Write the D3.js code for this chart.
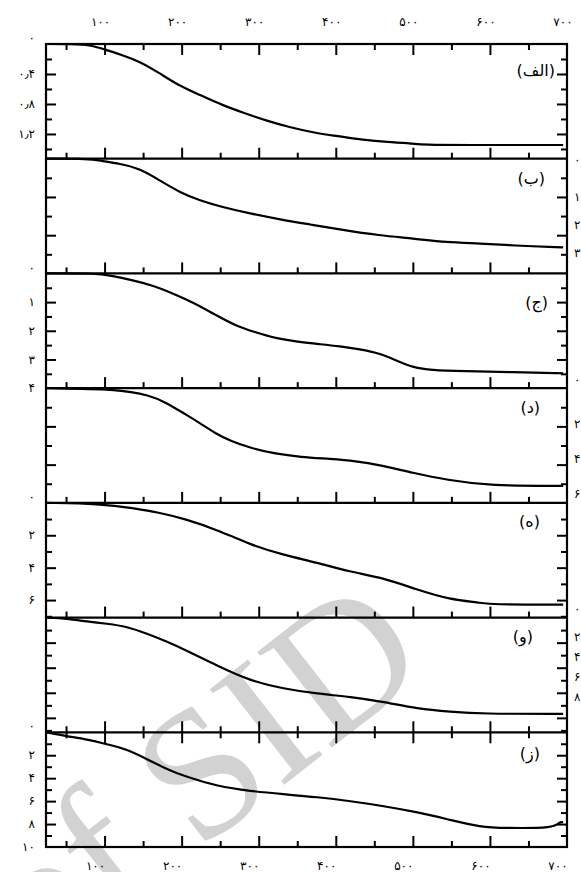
<!DOCTYPE html>
<html>
<head>
<meta charset="utf-8">
<script src="https://cdn.jsdelivr.net/npm/d3@7"></script>
<style>
  html, body { margin: 0; padding: 0; background: #fff; }
  svg { display: block; }
  text { font-family: "DejaVu Sans", sans-serif; }
</style>
</head>
<body>
<svg id="chart" width="581" height="872"></svg>
<script>
// ---- Temperature axis (°C) ----
const tempDomain = [24, 700];
const tempMajorTicks = [100, 200, 300, 400, 500, 600, 700];
const tempMinorTicks = [50, 150, 250, 350, 450, 550, 650];
const tempTickLabels = ["۱۰۰", "۲۰۰", "۳۰۰", "۴۰۰", "۵۰۰", "۶۰۰", "۷۰۰"];

// ---- Panels ----
const panelNames = ["(الف)", "(ب)", "(ج)", "(د)", "(ه)", "(و)", "(ز)"];
const lossMax = [1.53, 6, 4, 6, 7.08, 9.15, 10];
const lossStep = [0.2, 1, 0.5, 1, 1, 1, 1];

// Left-axis labels of each panel (value, text)
const lossLabelValues = [[0, 0.4, 0.8, 1.2], [], [0, 1, 2, 3, 4], [], [0, 2, 4, 6], [], [0, 2, 4, 6, 8, 10]];
const lossLabelTexts = [["۰", "۰٫۴", "۰٫۸", "۱٫۲"], [], ["۰", "۱", "۲", "۳", "۴"], [], ["۰", "۲", "۴", "۶"], [], ["۰", "۲", "۴", "۶", "۸", "۱۰"]];

// ---- Mass-loss curves ----
const tempA = [24, 60, 80, 99, 123, 147, 171, 195, 224, 252, 281, 311, 339, 373, 402, 435, 469, 492, 517, 565, 695];
const lossA = [0, 0, 0.013, 0.067, 0.147, 0.24, 0.387, 0.547, 0.68, 0.813, 0.92, 1.027, 1.107, 1.187, 1.227, 1.28, 1.31, 1.32, 1.347, 1.347, 1.347];

const tempB = [24, 81, 94, 120, 146, 172, 198, 224, 250, 289, 328, 367, 405, 457, 500, 544, 587, 630, 695];
const lossB = [0, 0, 0.1, 0.26, 0.52, 1.15, 1.77, 2.19, 2.5, 2.87, 3.18, 3.44, 3.7, 4.02, 4.17, 4.38, 4.43, 4.54, 4.64];

const tempC = [24, 90, 107, 137, 163, 189, 215, 243, 269, 295, 321, 354, 380, 405, 431, 457, 483, 500, 523, 565, 630, 695];
const lossC = [0, 0, 0.07, 0.24, 0.42, 0.7, 1.01, 1.43, 1.81, 2.05, 2.26, 2.40, 2.47, 2.54, 2.64, 2.78, 3.09, 3.27, 3.37, 3.41, 3.44, 3.48];

const tempD = [24, 116, 159, 181, 202, 224, 243, 263, 289, 322, 354, 393, 426, 457, 500, 544, 600, 695];
const lossD = [0, 0.05, 0.37, 0.78, 1.30, 1.83, 2.35, 2.76, 3.13, 3.44, 3.60, 3.70, 3.81, 4.02, 4.43, 4.80, 5.11, 5.11];

const tempE = [24, 94, 137, 172, 204, 246, 289, 331, 376, 418, 461, 505, 548, 587, 600, 695];
const lossE = [0, 0.06, 0.31, 0.62, 0.98, 1.66, 2.58, 3.2, 3.69, 4.25, 4.62, 5.35, 5.97, 6.15, 6.28, 6.28];

const tempF = [24, 51, 77, 103, 129, 155, 181, 207, 246, 289, 332, 376, 419, 462, 506, 549, 588, 695];
const lossF = [0, 0.08, 0.32, 0.48, 0.72, 1.28, 1.92, 2.64, 3.84, 5.04, 5.68, 6.08, 6.32, 6.72, 7.28, 7.52, 7.68, 7.68];

const tempG = [24, 51, 77, 103, 129, 155, 181, 207, 246, 289, 332, 376, 419, 462, 506, 549, 588, 618, 685, 689, 695];
const lossG = [0, 0.35, 0.61, 1.04, 1.48, 2.35, 3.22, 3.91, 4.7, 5.13, 5.39, 5.65, 6.0, 6.43, 6.96, 7.65, 8.26, 8.35, 8.35, 7.83, 7.83];

const curveTemps = [tempA, tempB, tempC, tempD, tempE, tempF, tempG];
const curveLosses = [lossA, lossB, lossC, lossD, lossE, lossF, lossG];

// Axis labels of the adjoining figure, clipped at the right edge
const edgeLabelValuesTop = [0, 1, 2, 3];
const edgeLabelValuesMid = [0, 2, 4, 6];
const edgeLabelValuesLow = [0, 2, 4, 6, 8];

(function draw() {
  const fLeft = 46, fRight = 567, fTop = 44, fBottom = 847;
  const nPanels = panelNames.length;
  const ph = (fBottom - fTop) / nPanels;
  const nameX = [555, 545, 548, 540, 540, 533, 540];
  const nameDy = [32, 25, 35, 25, 24, 24, 27];

  const svg = d3.select("#chart");
  const toFa = s => String(s).replace(/[0-9]/g, d => "۰۱۲۳۴۵۶۷۸۹"[+d]);

  // Watermark, behind everything
  const wmSize = 185;
  const wm = svg.append("g").attr("transform", "translate(198,852) rotate(-38)");
  const wmText = (s, xPos, anchor) => wm.append("text")
    .attr("x", xPos).attr("text-anchor", anchor)
    .style("font-family", "'Liberation Serif', 'DejaVu Serif', serif")
    .style("font-size", wmSize + "px")
    .attr("fill", "#d2d2d2")
    .text(s);
  wmText("SID", 0, "start");
  wmText("of", -0.25 * wmSize, "end");

  const x = d3.scaleLinear().domain(tempDomain).range([fLeft, fRight]);

  function styleAxis(g) {
    g.select(".domain").remove();
    g.selectAll(".tick line").attr("stroke", "#000").attr("stroke-width", 2);
    g.selectAll(".tick text").remove();
  }

  for (let i = 0; i < nPanels; i++) {
    const y0 = fTop + i * ph, y1 = y0 + ph;
    const y = d3.scaleLinear().domain([0, lossMax[i]]).range([y0, y1]);
    const ticks = d3.range(lossStep[i], lossMax[i] - 1e-6, lossStep[i]);
    const major = ticks.filter((t, k) => k % 2 === 1);
    const minor = ticks.filter((t, k) => k % 2 === 0);

    // Inward ticks on the left and right sides
    svg.append("g").attr("transform", `translate(${fLeft},0)`)
      .call(d3.axisRight(y).tickValues(major).tickSize(10)).call(styleAxis);
    svg.append("g").attr("transform", `translate(${fLeft},0)`)
      .call(d3.axisRight(y).tickValues(minor).tickSize(6)).call(styleAxis);
    svg.append("g").attr("transform", `translate(${fRight},0)`)
      .call(d3.axisLeft(y).tickValues(major).tickSize(10)).call(styleAxis);
    svg.append("g").attr("transform", `translate(${fRight},0)`)
      .call(d3.axisLeft(y).tickValues(minor).tickSize(6)).call(styleAxis);

    // Temperature ticks pointing up from the panel floor
    svg.append("g").attr("transform", `translate(0,${y1})`)
      .call(d3.axisTop(x).tickValues(tempMajorTicks.filter(t => t < 700)).tickSize(11)).call(styleAxis);
    svg.append("g").attr("transform", `translate(0,${y1})`)
      .call(d3.axisTop(x).tickValues(tempMinorTicks).tickSize(6)).call(styleAxis);
    if (i === 0 || i === nPanels - 1) {
      svg.append("g").attr("transform", `translate(0,${y0})`)
        .call(d3.axisBottom(x).tickValues(tempMajorTicks.filter(t => t < 700)).tickSize(11)).call(styleAxis);
      svg.append("g").attr("transform", `translate(0,${y0})`)
        .call(d3.axisBottom(x).tickValues(tempMinorTicks).tickSize(6)).call(styleAxis);
    }

    // Mass-loss curve
    const pts = curveTemps[i].map((t, k) => [t, curveLosses[i][k]]);
    svg.append("path")
      .datum(pts)
      .attr("fill", "none")
      .attr("stroke", "#000")
      .attr("stroke-width", 2.2)
      .attr("stroke-linejoin", "round")
      .attr("d", d3.line().x(d => x(d[0])).y(d => y(d[1])).curve(d3.curveBasis));

    // Panel separator
    svg.append("line")
      .attr("x1", fLeft).attr("x2", fRight).attr("y1", y1).attr("y2", y1)
      .attr("stroke", "#000").attr("stroke-width", 2.2);

    // Left labels
    lossLabelValues[i].forEach((v, k) => {
      svg.append("text")
        .attr("x", 35)
        .attr("y", y(v) + (v === 0 ? -6 : 0))
        .attr("dy", "0.35em")
        .attr("text-anchor", "end")
        .style("font-size", "12px")
        .text(lossLabelTexts[i][k]);
    });

    // Panel name
    svg.append("text")
      .attr("x", nameX[i])
      .attr("y", y0 + nameDy[i])
      .attr("text-anchor", "end")
      .style("font-size", "16px")
      .text(panelNames[i]);
  }

  // Outer frame
  svg.append("rect")
    .attr("x", fLeft).attr("y", fTop)
    .attr("width", fRight - fLeft).attr("height", fBottom - fTop)
    .attr("fill", "none").attr("stroke", "#000").attr("stroke-width", 2.2);

  // Temperature labels, top and bottom
  tempMajorTicks.forEach((t, k) => {
    svg.append("text").attr("x", x(t) - 4).attr("y", 26)
      .attr("text-anchor", "middle").style("font-size", "12px").text(tempTickLabels[k]);
    svg.append("text").attr("x", x(t) - 9).attr("y", 870)
      .attr("text-anchor", "middle").style("font-size", "12px").text(tempTickLabels[k]);
  });

  // Adjoining figure's labels at the right edge
  const edgeTop = d3.scaleLinear().domain([0, 3]).range([168, 253]);
  const edgeMid = d3.scaleLinear().domain([0, 6]).range([388, 494]);
  const edgeLow = d3.scaleLinear().domain([0, 8]).range([617, 697]);
  [[edgeLabelValuesTop, edgeTop], [edgeLabelValuesMid, edgeMid], [edgeLabelValuesLow, edgeLow]].forEach(([vals, s]) => {
    vals.forEach(v => {
      svg.append("text")
        .attr("x", 574)
        .attr("y", s(v) + (v === 0 ? -8 : 0))
        .attr("dy", "0.35em")
        .style("font-size", "12px")
        .text(toFa(v));
    });
  });
})();
</script>
</body>
</html>
